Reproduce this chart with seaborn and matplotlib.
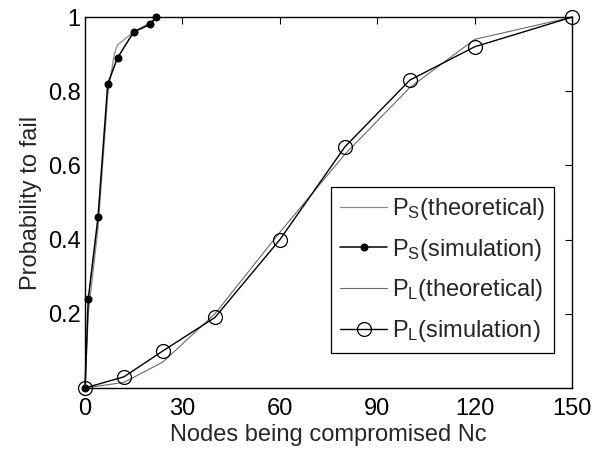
import matplotlib
matplotlib.use("Agg")
import matplotlib.pyplot as plt
import seaborn as sns
import pandas as pd

# data
ps_theo_x = [0, 1, 4, 7, 9, 10, 15, 20, 22]
ps_theo_y = [0, 0.20, 0.43, 0.79, 0.90, 0.925, 0.96, 0.985, 1.0]
ps_sim_x = [0, 1, 4, 7, 10, 15, 20, 22]
ps_sim_y = [0, 0.24, 0.46, 0.82, 0.89, 0.96, 0.98, 1.0]
pl_x = [0, 12, 24, 40, 60, 80, 100, 120, 150]
pl_theo_y = [0, 0.015, 0.07, 0.20, 0.42, 0.63, 0.81, 0.94, 1.0]
pl_sim_y = [0, 0.03, 0.10, 0.19, 0.40, 0.65, 0.83, 0.92, 1.0]
x_ticks = [0, 30, 60, 90, 120, 150]
y_ticks = [0, 0.2, 0.4, 0.6, 0.8, 1.0]
y_ticklabels = ["", "0.2", "0.4", "0.6", "0.8", "1"]

sns.set_style("white")
plt.rcParams["font.family"] = ["Liberation Sans", "DejaVu Sans"]
plt.rcParams["mathtext.fontset"] = "custom"
plt.rcParams["mathtext.rm"] = "Liberation Sans"
plt.rcParams["mathtext.it"] = "Liberation Sans"

FS = 17
fig = plt.figure(figsize=(6.03, 4.49), dpi=100)
ax = fig.add_axes([0.141, 0.136, 0.808, 0.826])

gray = "#8a8a8a"
sns.lineplot(x=ps_theo_x, y=ps_theo_y, ax=ax, color=gray, lw=0.9, sort=False,
             label=r"P$_{\mathrm{S}}$(theoretical)", clip_on=False)
sns.lineplot(x=ps_sim_x, y=ps_sim_y, ax=ax, color="black", lw=1.1, sort=False,
             marker="o", markersize=5, markerfacecolor="black", markeredgecolor="black",
             label=r"P$_{\mathrm{S}}$(simulation)", clip_on=False)
sns.lineplot(x=pl_x, y=pl_theo_y, ax=ax, color="#6a6a6a", lw=0.8, sort=False,
             label=r"P$_{\mathrm{L}}$(theoretical)", clip_on=False)
sns.lineplot(x=pl_x, y=pl_sim_y, ax=ax, color="black", lw=1.0, sort=False,
             marker="o", markersize=10, markerfacecolor="none", markeredgecolor="black",
             markeredgewidth=0.9, label=r"P$_{\mathrm{L}}$(simulation)", clip_on=False)

ax.set_xlim(0, 150)
ax.set_ylim(0, 1)
ax.set_xticks(x_ticks)
ax.set_xticklabels([str(v) for v in x_ticks])
ax.set_yticks(y_ticks)
ax.set_yticklabels(y_ticklabels)
ax.tick_params(direction="in", length=5, width=0.8, top=True, right=True,
               labelsize=FS, pad=3, colors="black")
ax.tick_params(axis="x", pad=7)
for s in ax.spines.values():
    s.set_color("black")
    s.set_linewidth(1.0)
ax.set_xlabel("Nodes being compromised Nc", fontsize=FS, labelpad=3)
ax.set_ylabel("Probability to fail", fontsize=FS, labelpad=4)

leg = ax.legend(loc="upper right", bbox_to_anchor=(0.963, 0.542), fontsize=FS,
                frameon=True, fancybox=False, edgecolor="black", framealpha=1,
                handlelength=2.0, handletextpad=0.2, borderpad=0.38,
                labelspacing=0.62, borderaxespad=0)
leg.get_frame().set_linewidth(0.9)

fig.savefig("out.png", dpi=100)
